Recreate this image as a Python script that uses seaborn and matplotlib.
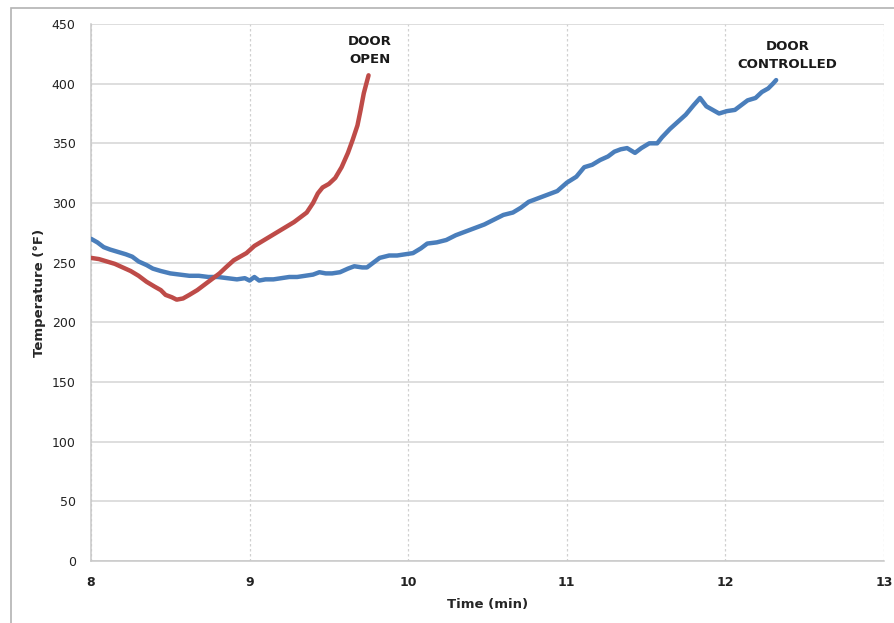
import matplotlib
matplotlib.use("Agg")
import numpy as np
import pandas as pd
import seaborn as sns
import matplotlib.pyplot as plt
from matplotlib.patches import Rectangle

# door open run (red)
open_time = [8.00, 8.05, 8.10, 8.15, 8.20, 8.25, 8.30, 8.35, 8.40, 8.44, 8.47, 8.51, 8.54,
             8.58, 8.62, 8.67, 8.72, 8.77, 8.81, 8.85, 8.90, 8.94, 8.98, 9.03, 9.08, 9.13,
             9.18, 9.23, 9.28, 9.32, 9.36, 9.40, 9.43, 9.46, 9.50, 9.54, 9.58, 9.62, 9.65,
             9.68, 9.70, 9.72, 9.75]
open_temp = [254, 253, 251, 249, 246, 243, 239, 234, 230, 227, 223, 221, 219,
             220, 223, 227, 232, 237, 241, 246, 252, 255, 258, 264, 268, 272,
             276, 280, 284, 288, 292, 300, 308, 313, 316, 321, 330, 342, 353,
             365, 378, 392, 407]

# door controlled run (blue)
ctrl_time = [8.00, 8.04, 8.08, 8.12, 8.17, 8.22, 8.26, 8.30, 8.35, 8.39, 8.44, 8.50, 8.56,
             8.62, 8.68, 8.74, 8.80, 8.86, 8.92, 8.97, 9.00, 9.03, 9.06, 9.10, 9.15, 9.20,
             9.25, 9.30, 9.35, 9.40, 9.44, 9.48, 9.52, 9.57, 9.62, 9.66, 9.71, 9.74, 9.78,
             9.82, 9.88, 9.93, 9.98, 10.03, 10.08, 10.12, 10.18, 10.24, 10.30, 10.36, 10.42,
             10.48, 10.54, 10.60, 10.66, 10.71, 10.76, 10.82, 10.88, 10.94, 11.00, 11.06,
             11.11, 11.16, 11.21, 11.26, 11.30, 11.34, 11.38, 11.43, 11.47, 11.52, 11.57,
             11.60, 11.65, 11.70, 11.75, 11.80, 11.84, 11.88, 11.92, 11.96, 12.01, 12.06,
             12.10, 12.14, 12.19, 12.23, 12.27, 12.30, 12.32]
ctrl_temp = [270, 267, 263, 261, 259, 257, 255, 251, 248, 245, 243, 241, 240,
             239, 239, 238, 238, 237, 236, 237, 235, 238, 235, 236, 236, 237,
             238, 238, 239, 240, 242, 241, 241, 242, 245, 247, 246, 246, 250,
             254, 256, 256, 257, 258, 262, 266, 267, 269, 273, 276, 279,
             282, 286, 290, 292, 296, 301, 304, 307, 310, 317, 322,
             330, 332, 336, 339, 343, 345, 346, 342, 346, 350, 350,
             355, 362, 368, 374, 382, 388, 381, 378, 375, 377, 378,
             382, 386, 388, 393, 396, 400, 403]

x_ticks = [8, 9, 10, 11, 12, 13]
y_ticks = [0, 50, 100, 150, 200, 250, 300, 350, 400, 450]

sns.set_style("white")
plt.rcParams["font.family"] = ["DejaVu Sans"]

fig = plt.figure(figsize=(8.95, 6.23), dpi=100)
ax = fig.add_axes([0.1017, 0.0995, 0.886, 0.862])

# outer chart frame
fig.patches.append(Rectangle((0.0123, -0.02), 1.0, 1.007, transform=fig.transFigure,
                             fill=False, edgecolor="#b3b3b3", linewidth=1.2))

open_df = pd.DataFrame({"time": open_time, "temp": open_temp})
ctrl_df = pd.DataFrame({"time": ctrl_time, "temp": ctrl_temp})

sns.lineplot(data=ctrl_df, x="time", y="temp", color="#4A7EBB", linewidth=3.2, ax=ax,
             sort=False, solid_capstyle="round", zorder=3)
sns.lineplot(data=open_df, x="time", y="temp", color="#BE4B48", linewidth=3.2, ax=ax,
             sort=False, solid_capstyle="round", zorder=3)

ax.set_xlim(8, 13)
ax.set_ylim(0, 450)
ax.set_xticks(x_ticks)
ax.set_yticks(y_ticks)
ax.set_xticklabels([str(t) for t in x_ticks], fontsize=9, fontweight="bold", color="#222222")
ax.set_yticklabels([str(t) for t in y_ticks], fontsize=9, color="#222222")

ax.grid(axis="y", color="#d4d4d4", linewidth=1.1, linestyle="-")
ax.grid(axis="x", color="#d0d0d0", linewidth=0.9, linestyle=(0, (2, 2)))
ax.set_axisbelow(True)

for s in ["top", "right"]:
    ax.spines[s].set_visible(False)
for s in ["left", "bottom"]:
    ax.spines[s].set_color("#c8c8c8")
    ax.spines[s].set_linewidth(1.1)
ax.tick_params(axis="both", which="major", length=5, width=1, color="#c8c8c8", pad=6)

ax.set_xlabel("Time (min)", fontsize=9.5, fontweight="bold", labelpad=6)
ax.set_ylabel("Temperature (°F)", fontsize=9.5, fontweight="bold", labelpad=4)

ax.text(9.76, 428, "DOOR\nOPEN", ha="center", va="center", fontsize=9.5,
        fontweight="bold", linespacing=1.5, color="#1a1a1a")
ax.text(12.39, 424, "DOOR\nCONTROLLED", ha="center", va="center", fontsize=9.5,
        fontweight="bold", linespacing=1.5, color="#1a1a1a")

fig.savefig("out.png", dpi=100)
